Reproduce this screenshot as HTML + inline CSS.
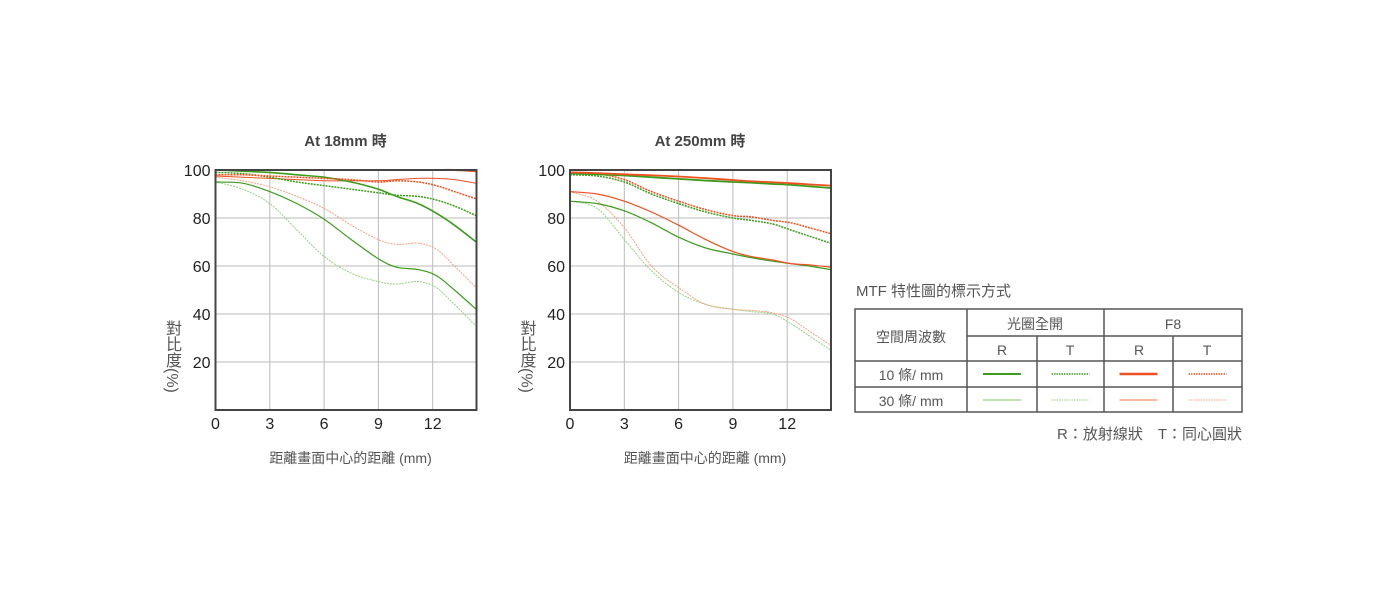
<!DOCTYPE html>
<html><head><meta charset="utf-8"><style>
body{margin:0;background:#fff;width:1400px;height:600px;overflow:hidden;font-family:"Liberation Sans","Noto Sans CJK TC",sans-serif}
svg text{font-family:"Liberation Sans","Noto Sans CJK TC",sans-serif}
</style></head><body>
<svg id="c" width="1400" height="600"></svg>
<script>
// shared x positions (mm)
const xs18=[0,1.5,3,4.5,6,7.5,9,10,11.2,12.2,13.2,14.4];
// At 18mm series
const a18_g10R=[100,99.5,99,98,97,95,92,89,86,82,77,70];
const a18_g10T=[99,98.5,97,95,93.5,92,90.5,89.5,89,87.5,85,81];
const a18_r10R=[100,100,100,100,100,100,100,100,100,100,100,99.5];
const a18_r10T=[98,98,97.5,97,96.5,96,95,95.5,95,93.5,91,88];
const a18_r30R=[97.5,97,96.5,96,95.5,95.5,95.5,96,96.5,96.5,96,94.5];
const a18_r30T=[97,95.5,93,89,84,77,71,69,69.5,67,60,51];
const a18_g30R=[95,94.5,91,86,79.5,71,63,59.5,58.5,56,50,42];
const a18_g30T=[95,92,86,75,64,57,53.5,52.5,53.5,51,44,35];
// At 250mm series
const a250_r10R=[99,98.7,98.2,97.8,97.3,96.6,95.8,95.3,94.9,94.5,94,93.5];
const a250_g10R=[98.5,98.2,97.7,97,96.3,95.6,95,94.7,94.2,93.8,93.2,92.5];
const a250_r10T=[99,98.5,96,91,87,83.5,81,80.5,79,78,76,73.5];
const a250_g10T=[98,97.5,95,90,86,82.5,80,79,77.5,75,72.5,69.5];
const a250_r30R=[91,90,87,82.5,77,71,66,64,62.5,61,60.5,59.5];
const a250_g30R=[87,86,83,78,72,67.5,65,63.5,62,61,60,58.5];
const a250_r30T=[91,87,76,60,51,44,42,41.5,40.5,38,33,27];
const a250_g30T=[87,84,71,58,49,44,42,41,40,36,31,25];
const yTicks=[20,40,60,80,100];
const xTicks=[0,3,6,9,12];

const NS="http://www.w3.org/2000/svg";
const svg=document.getElementById('c');
function el(t,a,p){const e=document.createElementNS(NS,t);for(const k in a)e.setAttribute(k,a[k]);(p||svg).appendChild(e);return e;}
const DG='#3c9c1c',LG='#96d27e',DR='#ee5020',LR='#f5a282';

function chart(x0,title,series){
  const g=el('g',{});
  
  
  const top=170,bot=410,right=x0+261;
  const X=v=>x0+v*18.1, Y=v=>bot-(v/100)*(bot-top);
  const t=el('text',{x:x0+130,y:146,'text-anchor':'middle','font-size':15,'font-weight':'bold',fill:'#444'},g);t.textContent=title;
  
  yTicks.forEach(v=>{
    const l=el('line',{x1:x0,x2:right,y1:Y(v),y2:Y(v),stroke:'#bbb','stroke-width':1},g);
    
    const tx=el('text',{x:x0-5,y:Y(v)+6,'text-anchor':'end','font-size':16,fill:'#222'},g);tx.textContent=v;
    
  });
  xTicks.forEach(v=>{
    const l=el('line',{x1:X(v),x2:X(v),y1:top,y2:bot,stroke:'#bbb','stroke-width':1},g);
    
    const tx=el('text',{x:X(v),y:bot+19,'text-anchor':'middle','font-size':16,fill:'#222'},g);tx.textContent=v;
    
  });
  series.forEach(s=>{
    const pts=xs18.map((x,i)=>[X(x),Y(s.v[i])]);
    let d='M'+pts[0][0]+','+pts[0][1];
    for(let i=0;i<pts.length-1;i++){
      const p0=pts[i-1]||pts[i],p1=pts[i],p2=pts[i+1],p3=pts[i+2]||p2;
      d+=' C'+(p1[0]+(p2[0]-p0[0])/6)+','+(p1[1]+(p2[1]-p0[1])/6)+' '+(p2[0]-(p3[0]-p1[0])/6)+','+(p2[1]-(p3[1]-p1[1])/6)+' '+p2[0]+','+p2[1];
    }
    const p=el('path',{d:d,fill:'none',stroke:s.c,'stroke-width':s.w,'stroke-dasharray':s.dash?'2,1':'none'},g);
    
    
  });
  const r=el('rect',{x:x0,y:top,width:right-x0,height:bot-top,fill:'none',stroke:'#444','stroke-width':2},g);
  
  const yl=el('text',{x:x0-44,y:320,'font-size':16,fill:'#555','writing-mode':'tb'},g);yl.textContent='對比度(%)';
  
  const xl=el('text',{x:x0+135,y:463,'text-anchor':'middle','font-size':14,fill:'#555'},g);xl.textContent='距離畫面中心的距離 (mm)';
  
}
chart(215.5,'At 18mm 時',[
 {n:'line-30-t-open',v:a18_g30T,c:LG,w:1,dash:1},{n:'line-30-r-open',v:a18_g30R,c:DG,w:1.2},
 {n:'line-30-t-f8',v:a18_r30T,c:LR,w:1,dash:1},{n:'line-30-r-f8',v:a18_r30R,c:DR,w:1},
 {n:'line-10-t-open',v:a18_g10T,c:DG,w:1.5,dash:1},{n:'line-10-r-open',v:a18_g10R,c:DG,w:1.6},
 {n:'line-10-t-f8',v:a18_r10T,c:DR,w:1.5,dash:1},{n:'line-10-r-f8',v:a18_r10R,c:DR,w:2}]);
chart(570,'At 250mm 時',[
 {n:'line-30-t-open',v:a250_g30T,c:LG,w:1,dash:1},{n:'line-30-t-f8',v:a250_r30T,c:LR,w:1,dash:1},
 {n:'line-30-r-open',v:a250_g30R,c:DG,w:1.2},{n:'line-30-r-f8',v:a250_r30R,c:DR,w:1.2},
 {n:'line-10-t-open',v:a250_g10T,c:DG,w:1.5,dash:1},{n:'line-10-t-f8',v:a250_r10T,c:DR,w:1.5,dash:1},
 {n:'line-10-r-open',v:a250_g10R,c:DG,w:1.8},{n:'line-10-r-f8',v:a250_r10R,c:DR,w:1.8}]);

// legend table
const L=el('g',{});


function tx(x,y,s,anchor,fs){const t=el('text',{x:x,y:y,'text-anchor':anchor||'middle','font-size':fs||14,fill:'#555'},L);t.textContent=s;
return t;}
tx(856,296,'MTF 特性圖的標示方式','start',15);
const cols=[855,967,1037,1104,1173,1242], rows=[309,336,361,387,412];
el('rect',{x:855,y:309,width:387,height:103,fill:'none',stroke:'#555','stroke-width':1.5},L);
[[967,309,967,412],[1104,309,1104,412],[1037,336,1037,412],[1173,336,1173,412],[967,336,1242,336],[855,361,1242,361],[855,387,1242,387]].forEach(a=>el('line',{x1:a[0],y1:a[1],x2:a[2],y2:a[3],stroke:'#555','stroke-width':1.5},L));
tx(911,342,'空間周波數');tx(1035,329,'光圈全開');tx(1173,329,'F8');
tx(1002,355,'R');tx(1070,355,'T');tx(1139,355,'R');tx(1207,355,'T');
tx(911,380,'10 條/ mm');tx(911,406,'30 條/ mm');
const sw=[[DG,2,0],[DG,1.5,1],[DR,2.5,0],[DR,1.5,1]], sw2=[[LG,1.2,0],[LG,1,1],[LR,1.5,0],[LR,1,1]];
[0,1,2,3].forEach(i=>{const cx=(cols[i+1]+cols[i+2])/2;
 [[sw[i],374],[sw2[i],400]].forEach(([s,y])=>{const l=el('line',{x1:cx-19,x2:cx+19,y1:y,y2:y,stroke:s[0],'stroke-width':s[1],'stroke-dasharray':s[2]?'1.5,1':'none'},L);
 });});
tx(1242,439,'R：放射線狀　T：同心圓狀','end',15);
</script>
</body></html>
